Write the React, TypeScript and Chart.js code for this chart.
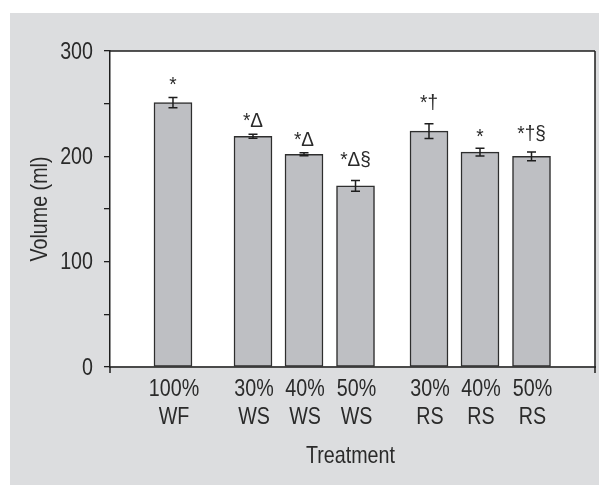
import React, { useEffect, useRef } from 'react';
import { Chart, registerables } from 'chart.js';

Chart.register(...registerables);

// ---- data ----
const categories: string[][] = [
  ['100%', 'WF'],
  ['30%', 'WS'],
  ['40%', 'WS'],
  ['50%', 'WS'],
  ['30%', 'RS'],
  ['40%', 'RS'],
  ['50%', 'RS'],
];
const volumes = [251, 219, 202, 172, 224, 204, 200];
const errors = [4.9, 1.9, 1.5, 5.1, 7, 3.6, 4.1];
const marks = ['*', '*Δ', '*Δ', '*Δ§', '*†', '*', '*†§'];
const yTickLabels = [0, 100, 200, 300];
const xTitle = 'Treatment';
const yTitle = 'Volume (ml)';

// ---- layout (group spacing on the x axis, label lift above error bars) ----
const slotPositions = [1.235, 2.804, 3.804, 4.814, 6.255, 7.255, 8.265];
const xMax = 9.51;
const labelGap = [6, 7, 6.5, 14, 15, 5.5, 12];

const FAMILY = "'Liberation Sans', Arial, sans-serif";
const TEXT = '#2a2a2a';

function drawText(
  ctx: CanvasRenderingContext2D,
  s: string,
  x: number,
  y: number,
  size: number,
  align: CanvasTextAlign,
  rot = 0,
  squeeze = 0.82
) {
  ctx.save();
  ctx.translate(x, y);
  if (rot) ctx.rotate(rot);
  ctx.scale(squeeze, 1);
  ctx.font = `${size}px ${FAMILY}`;
  ctx.textAlign = align;
  ctx.textBaseline = 'alphabetic';
  ctx.fillStyle = TEXT;
  ctx.fillText(s, 0, 0);
  ctx.restore();
}

const framePlugin = {
  id: 'framePlugin',
  beforeDraw(chart: any) {
    const { ctx, width, height, chartArea } = chart;
    ctx.save();
    ctx.fillStyle = '#dcdddf';
    ctx.fillRect(10, 13, width - 10, height - 13);
    ctx.fillStyle = '#ffffff';
    ctx.fillRect(chartArea.left, chartArea.top, chartArea.right - chartArea.left, chartArea.bottom - chartArea.top);
    ctx.restore();
  },
  afterDatasetsDraw(chart: any) {
    const { ctx } = chart;
    const meta = chart.getDatasetMeta(0);
    const y = chart.scales.y;
    ctx.save();
    ctx.strokeStyle = '#1e1e1e';
    ctx.lineWidth = 1.5;
    volumes.forEach((v, i) => {
      const x = meta.data[i].x;
      const top = y.getPixelForValue(v + errors[i]);
      const bot = y.getPixelForValue(v - errors[i]);
      ctx.beginPath();
      ctx.moveTo(x, top);
      ctx.lineTo(x, bot);
      ctx.moveTo(x - 4.5, top);
      ctx.lineTo(x + 4.5, top);
      ctx.moveTo(x - 4.5, bot);
      ctx.lineTo(x + 4.5, bot);
      ctx.stroke();
      drawText(ctx, marks[i], x, top - labelGap[i], 20, 'center', 0, 0.95);
    });
    ctx.restore();
  },
  afterDraw(chart: any) {
    const { ctx, chartArea } = chart;
    const xs = chart.scales.x;
    const ys = chart.scales.y;
    ctx.save();
    ctx.strokeStyle = '#1e1e1e';
    ctx.lineWidth = 1.5;
    ctx.beginPath();
    ctx.moveTo(chartArea.left, chartArea.top);
    ctx.lineTo(chartArea.right, chartArea.top);
    ctx.moveTo(chartArea.right, chartArea.top);
    ctx.lineTo(chartArea.right, chartArea.bottom + 6);
    ctx.moveTo(chartArea.left, chartArea.bottom);
    ctx.lineTo(chartArea.left, chartArea.bottom + 6);
    ctx.stroke();
    ctx.restore();

    // y tick labels
    yTickLabels.forEach((v) => {
      const py = ys.getPixelForValue(v);
      drawText(ctx, String(v), chartArea.left - 17, py + 7.5, 24, 'right');
    });
    // x tick labels (two lines)
    categories.forEach((lines, i) => {
      const px = xs.getPixelForValue(slotPositions[i]);
      lines.forEach((line, j) => {
        drawText(ctx, line, px + 1, chartArea.bottom + 29 + j * 27.7, 24, 'center');
      });
    });
    // axis titles
    drawText(ctx, xTitle, (chartArea.left + chartArea.right) / 2 - 2, chartArea.bottom + 96, 24, 'center');
    drawText(ctx, yTitle, 46.5, (chartArea.top + chartArea.bottom) / 2, 24, 'center', -Math.PI / 2);
  },
};

export default function App() {
  const ref = useRef<HTMLCanvasElement | null>(null);
  useEffect(() => {
    if (!ref.current) return;
    const chart = new Chart(ref.current, {
      type: 'bar',
      data: {
        datasets: [
          {
            data: volumes.map((v, i) => ({ x: slotPositions[i], y: v })),
            backgroundColor: '#bebfc3',
            borderColor: '#2e2e2e',
            borderWidth: 1.5,
            borderSkipped: false,
            barThickness: 38,
          } as any,
        ],
      },
      options: {
        responsive: false,
        animation: false,
        devicePixelRatio: 1,
        layout: { padding: { top: 51, right: 4, left: 0, bottom: 0 } },
        plugins: { legend: { display: false }, tooltip: { enabled: false } },
        scales: {
          x: {
            type: 'linear',
            min: 0,
            max: xMax,
            offset: false,
            grid: { display: false, offset: false },
            border: { display: true, color: '#4a4a4a', width: 2 },
            afterBuildTicks: (scale: any) => {
              scale.ticks = slotPositions.map((p) => ({ value: p }));
            },
            afterFit: (scale: any) => {
              scale.height = 118;
            },
            ticks: { display: false },
          },
          y: {
            min: 0,
            max: 300,
            afterBuildTicks: (scale: any) => {
              const t: any[] = [];
              for (let v = 0; v <= 300; v += 50) t.push({ value: v });
              scale.ticks = t;
            },
            afterFit: (scale: any) => {
              scale.width = 110;
            },
            grid: {
              display: true,
              drawOnChartArea: false,
              drawTicks: true,
              tickLength: 6,
              color: '#1e1e1e',
              lineWidth: 1.3,
            },
            border: { display: true, color: '#1e1e1e', width: 1.5 },
            ticks: { display: false },
          },
        },
      },
      plugins: [framePlugin],
    });
    return () => chart.destroy();
  }, []);
  return (
    <div style={{ position: 'fixed', left: 0, top: 0, width: 599, height: 485 }}>
      <canvas ref={ref} width={599} height={485} style={{ width: 599, height: 485, display: 'block' }} />
    </div>
  );
}
